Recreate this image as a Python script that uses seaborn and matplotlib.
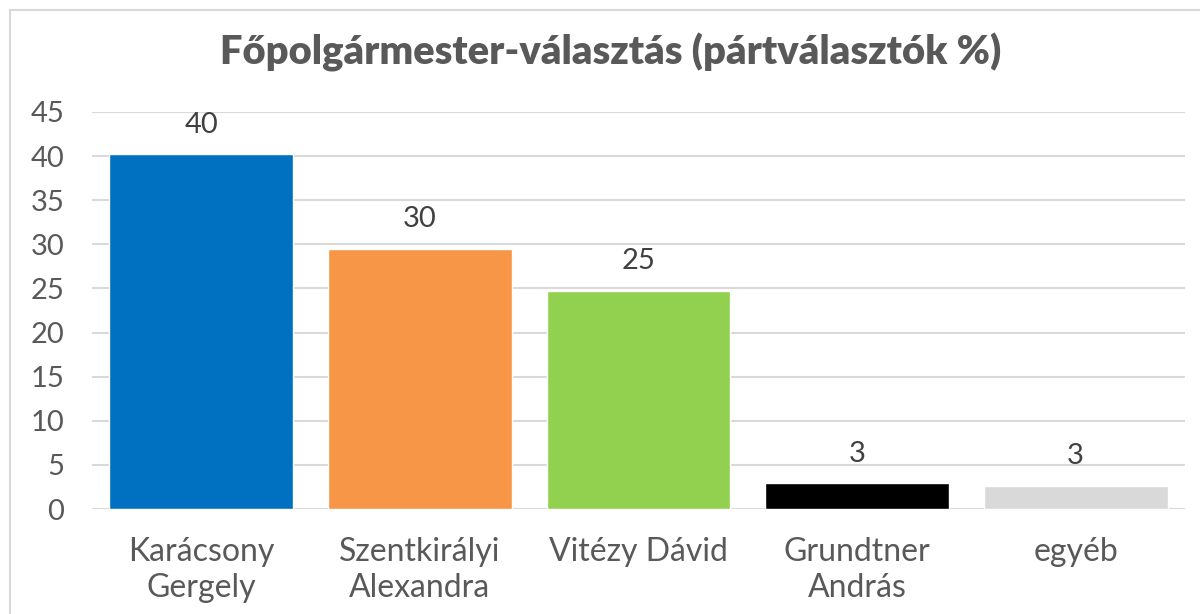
import matplotlib
matplotlib.use("Agg")
import matplotlib.pyplot as plt
import seaborn as sns
import pandas as pd
from matplotlib.patches import Rectangle

categories = ["Karácsony\nGergely", "Szentkirályi\nAlexandra", "Vitézy Dávid", "Grundtner\nAndrás", "egyéb"]
values = [40.2, 29.5, 24.7, 2.9, 2.6]
colors = ["#0070C0", "#F79646", "#92D050", "#000000", "#D9D9D9"]
yticks = [0, 5, 10, 15, 20, 25, 30, 35, 40, 45]
title = "Főpolgármester-választás (pártválasztók %)"

sns.set_theme(style="white")
plt.rcParams["font.family"] = ["Lato", "DejaVu Sans"]

df = pd.DataFrame({"cat": categories, "val": values})

fig = plt.figure(figsize=(12, 6.14), dpi=100)
ax = fig.add_axes([92 / 1200, 1 - 509 / 614, (1185 - 92) / 1200, (509 - 112) / 614])

# chart border
fig.patches.append(Rectangle((10 / 1200, -0.1), 1.2, 1 - 10 / 614 + 0.1, transform=fig.transFigure,
                             fill=False, edgecolor="#D9D9D9", linewidth=1.5, zorder=0))

sns.barplot(data=df, x="cat", y="val", hue="cat", palette=colors, legend=False,
            width=0.84, saturation=1, ax=ax, zorder=3)

ax.set_ylim(0, 45)
ax.set_yticks(yticks)
ax.set_xlim(-0.5, len(categories) - 0.5)
ax.yaxis.grid(True, color="#D9D9D9", linewidth=1.5, zorder=0)
ax.set_axisbelow(True)
for s in ax.spines.values():
    s.set_visible(False)
ax.set_xlabel("")
ax.set_ylabel("")
ax.tick_params(axis="both", length=0, labelcolor="#595959")
ax.tick_params(axis="y", pad=20, labelsize=21)
ax.tick_params(axis="x", pad=20, labelsize=23)
for lbl in ax.get_xticklabels():
    lbl.set_linespacing(1.25)

for c in ax.containers:
    ax.bar_label(c, fmt="%.0f", padding=12, fontsize=21, color="#404040")

fig.text(611 / 1200, 1 - 52 / 614, title, ha="center", va="center", fontsize=28.7,
         fontweight="heavy", color="#595959")

fig.savefig("out.png", dpi=100)
